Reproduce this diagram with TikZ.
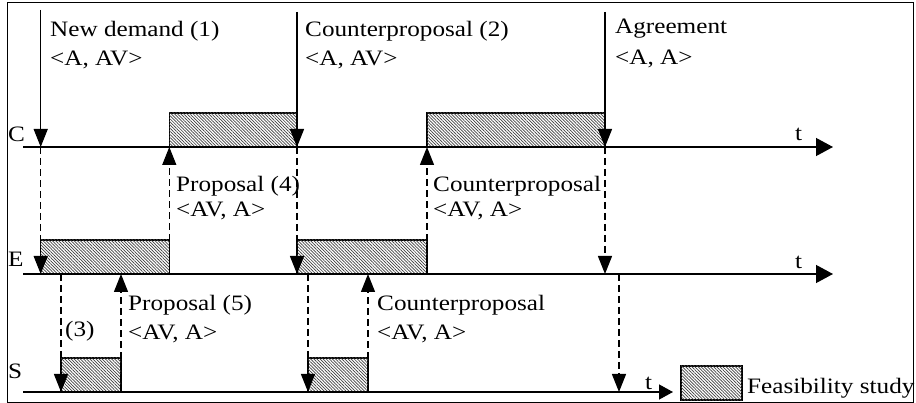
\documentclass[tikz,border=0pt]{standalone}
\usepackage{fontspec}
\setmainfont{Liberation Serif}[FakeStretch=1.145]
\usetikzlibrary{arrows.meta,patterns.meta}
\begin{document}
\begin{tikzpicture}[x=1pt,y=-1pt,
 lbl/.style={anchor=base west,inner sep=0pt,font=\fontsize{22}{26}\selectfont},
 axisline/.style={line width=1.3pt,-{Triangle[length=17pt,width=18pt]}},
 saxis/.style={line width=1.3pt,-{Triangle[length=14pt,width=15pt]}},
 msg/.style={line width=1.2pt,-{Triangle[length=18pt,width=14pt]}},
 dmsg/.style={msg,dash pattern=on 7pt off 4pt},
 study/.style={draw,line width=1.3pt,fill=white,postaction={pattern={Lines[angle=-45,distance=2.2pt,line width=0.7pt]},pattern color=black!75}}
]
\useasboundingbox (0,0) rectangle (916,403);
\draw[line width=1pt] (7,3) rectangle (913,402);

% axes
\coordinate (C0) at (23,147); \coordinate (C1) at (833,147);
\coordinate (E0) at (23,274); \coordinate (E1) at (833,274);
\coordinate (S0) at (23,392); \coordinate (S1) at (673,392);

% event points
\coordinate (t1) at (40.7,10); \coordinate (t2) at (297,12); \coordinate (t3) at (605,12);
\coordinate (c1) at (40.7,147); \coordinate (c2) at (169.3,147); \coordinate (c3) at (297,147);
\coordinate (c4) at (427,147); \coordinate (c5) at (605,147);
\coordinate (e1) at (40.7,274); \coordinate (e2) at (61,274); \coordinate (e3) at (121,274);
\coordinate (e4) at (169.3,274); \coordinate (e5) at (297,274); \coordinate (e6) at (308,274);
\coordinate (e7) at (368,274); \coordinate (e8) at (427,274); \coordinate (e9) at (605,274);
\coordinate (e10) at (619,274);
\coordinate (s1) at (61,392); \coordinate (s2) at (121,392); \coordinate (s3) at (308,392);
\coordinate (s4) at (368,392); \coordinate (s5) at (619,392);

% feasibility studies
\draw[study] (169.3,113) rectangle (c3);
\draw[study] (427,113) rectangle (c5);
\draw[study] (40.7,240) rectangle (e4);
\draw[study] (297,240) rectangle (e8);
\draw[study] (61,358) rectangle (s2);
\draw[study] (308,358) rectangle (s4);
\draw[study] (681,366) rectangle (742,400);

\draw[axisline] (C0) -- (C1);
\draw[axisline] (E0) -- (E1);
\draw[saxis] (S0) -- (S1);

% messages
\draw[msg] (t1) -- (c1);
\draw[msg] (t2) -- (c3);
\draw[msg] (t3) -- (c5);
\draw[dmsg] (c1) -- (e1);
\draw[dmsg] (c3) -- (e5);
\draw[dmsg] (c5) -- (e9);
\draw[dmsg] (e4) -- (c2);
\draw[dmsg] (e8) -- (c4);
\draw[dmsg] (e2) -- (s1);
\draw[dmsg] (e6) -- (s3);
\draw[dmsg] (e10) -- (s5);
\draw[dmsg] (s2) -- (e3);
\draw[dmsg] (s4) -- (e7);

% labels
\node[lbl] (lC) at (8,142) {C};
\node[lbl] (lE) at (8,267) {E};
\node[lbl] (lS) at (8,378) {S};
\node[lbl] (tC) at (795,141) {t};
\node[lbl] (tE) at (795,269) {t};
\node[lbl] (tS) at (645,389) {t};

\node[lbl] (m1a) at (50,37) {New demand (1)};
\node[lbl] (m1b) at (50,66) {<A, AV>};
\node[lbl] (m2a) at (305,37) {Counterproposal (2)};
\node[lbl] (m2b) at (305,66) {<A, AV>};
\node[lbl] (m3a) at (615,34) {Agreement};
\node[lbl] (m3b) at (615,65) {<A, A>};
\node[lbl] (m4a) at (176,192) {Proposal (4)};
\node[lbl] (m4b) at (176,217) {<AV, A>};
\node[lbl] (m5a) at (433,192) {Counterproposal};
\node[lbl] (m5b) at (433,217) {<AV, A>};
\node[lbl] (m6) at (65,337) {(3)};
\node[lbl] (m7a) at (128,311) {Proposal (5)};
\node[lbl] (m7b) at (128,340) {<AV, A>};
\node[lbl] (m8a) at (377,311) {Counterproposal};
\node[lbl] (m8b) at (377,340) {<AV, A>};
\node[lbl] (leg) at (747,393) {Feasibility study};
\end{tikzpicture}
\end{document}
